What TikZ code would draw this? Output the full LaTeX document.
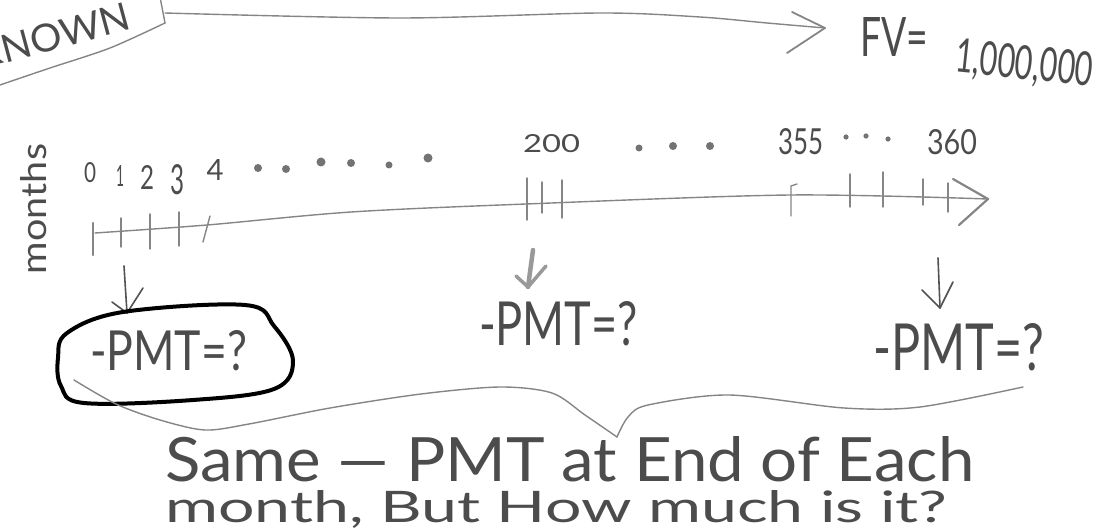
\documentclass[tikz,border=0pt]{standalone}
\usepackage{fontspec}
\setmainfont{Lato}
\usepackage{graphicx}
\newcommand{\hwtext}[3]{\resizebox{#1pt}{#2pt}{#3}}
\begin{document}
\begin{tikzpicture}[x=1pt,y=-1pt,
  pencil/.style={draw=black!48, line width=1.4pt, line cap=round, line join=round},
  darkpen/.style={draw=black!68, line width=1.6pt, line cap=round, line join=round},
  ink/.style={inner sep=0pt, outer sep=0pt, text=black!70},
  dotmark/.style={fill=black!55, draw=none}]
\useasboundingbox (0,0) rectangle (1099,529);

% ---------- KNOWN box and top arrow ----------
\node[ink, anchor=base west, rotate=15] (known) at (-20,70) {\hwtext{158}{28}{KNOWN}};
\coordinate (boxTop) at (160,-3);
\coordinate (boxCorner) at (165,23);
\coordinate (boxR) at (165,13);
\coordinate (boxEnd) at (-3,86);
\draw[pencil] (boxTop) -- (boxCorner);
\draw[pencil] plot[smooth, tension=0.5] coordinates {(boxCorner) (110,48) (50,68) (boxEnd)};
\coordinate (fvTip) at (825,28);
\draw[pencil] plot[smooth, tension=0.5] coordinates {(boxR) (400,18) (600,13) (700,17) (767,23) (fvTip)};
\draw[pencil, line width=1.8pt] (792,12) -- (fvTip) -- (787,53);

\node[ink, anchor=base west] (fv) at (860,57) {\hwtext{68}{39}{FV=}};
\node[ink, anchor=base west, rotate=-6] (million) at (954,72) {\hwtext{138}{34}{1,000,000}};

% ---------- months label ----------
\node[ink, anchor=base west, rotate=90] (months) at (46,274) {\hwtext{130}{26}{months}};

% ---------- month numbers ----------
\node[ink, anchor=base] (n0) at (90,183) {\hwtext{12}{20}{0}};
\node[ink, anchor=base] (n1) at (120,186) {\hwtext{8}{21}{1}};
\node[ink, anchor=base] (n2) at (147,190) {\hwtext{14}{24}{2}};
\node[ink, anchor=base] (n3) at (177,195) {\hwtext{14}{30}{3}};
\node[ink, anchor=base] (n4) at (215,181) {\hwtext{17}{21}{4}};
\foreach \x/\y/\r in {258/168/4, 286/169/4, 321/162/4.5, 351/163/4, 389/165/3.5, 428/158/4.5}
  \fill[dotmark] (\x,\y) circle[radius=\r];
\node[ink, anchor=base west] (n200) at (523,153) {\hwtext{57}{18}{200}};
\foreach \x/\y/\r in {639/148/3.5, 673/146/4, 710/146/4}
  \fill[dotmark] (\x,\y) circle[radius=\r];
\node[ink, anchor=base west] (n355) at (778,155) {\hwtext{45}{26}{355}};
\foreach \x/\y in {846/137, 866/136, 888/139}
  \fill[dotmark] (\x,\y) circle[radius=2.6];
\node[ink, anchor=base west] (n360) at (927,155) {\hwtext{50}{25}{360}};

% ---------- timeline ----------
\coordinate (t0) at (95,233);
\coordinate (tEnd) at (988,199);
\draw[pencil] plot[smooth, tension=0.5] coordinates {(t0) (207,225) (351,212) (526,204) (790,195) (tEnd)};
\draw[pencil, line width=2.2pt] (953,179) -- (tEnd) -- (959,225);
% ticks
\draw[pencil, line width=2.4pt] (93,223) -- (93,255);
\draw[pencil] (121,218) -- (121,247);
\draw[pencil] (150,214) -- (150,249);
\draw[pencil] (179,212) -- (179,246);
\draw[pencil] (210,216) -- (203,242);
\draw[pencil] (527,178) -- (527,220);
\draw[pencil] (542,182) -- (542,213);
\draw[pencil] (562,180) -- (562,218);
\draw[pencil] (797,184) -- (791,186) -- (791,216);
\draw[pencil] (850,174) -- (850,207);
\draw[pencil] (883,172) -- (883,207);
\draw[pencil] (923,179) -- (923,205);
\draw[pencil] (948,183) -- (948,212);

% ---------- down arrows ----------
\coordinate (la1) at (124,266);
\coordinate (la2) at (127,313);
\draw[darkpen] (la1) -- (la2);
\draw[darkpen] (112,302) -- (la2) -- (143,288);
\coordinate (ma1) at (533,250);
\coordinate (ma2) at (528,287);
\draw[pencil, line width=4.5pt, draw=black!40] (ma1) -- (ma2);
\draw[pencil, line width=3.5pt, draw=black!40] (516,276) -- (ma2) -- (546,266);
\coordinate (ra1) at (938,258);
\coordinate (ra2) at (940,308);
\draw[darkpen] (ra1) -- (ra2);
\draw[darkpen] (922,290) -- (ra2) -- (953,282);

% ---------- PMT labels ----------
\draw[black, line width=4pt, line join=round] plot[smooth cycle, tension=0.6] coordinates
  {(58,358) (67,333) (123,312) (245,305) (274,326) (293,361) (274,389) (193,400) (84,403) (61,386)};
\node[ink, anchor=base west] (pmtL) at (90,370) {\hwtext{157}{40}{-PMT=?}};
\node[ink, anchor=base west] (pmtM) at (479,345) {\hwtext{159}{44}{-PMT=?}};
\node[ink, anchor=base west] (pmtR) at (873,370) {\hwtext{171}{47}{-PMT=?}};

% ---------- brace ----------
\coordinate (bL) at (74,380);
\coordinate (bMid) at (617,437);
\coordinate (bR) at (1023,387);
\draw[pencil] plot[smooth, tension=0.5] coordinates
  {(bL) (116,404) (160,420) (205,430) (249,424) (330,408) (421,394) (500,387) (552,393) (585,415) (bMid)};
\draw[pencil] plot[smooth, tension=0.5] coordinates
  {(bMid) (628,417) (648,405) (729,395) (844,408) (920,407) (bR)};

% ---------- bottom text ----------
\node[ink, anchor=base west] (line1) at (165,481) {\hwtext{809}{45}{Same — PMT at End of Each}};
\node[ink, anchor=base west] (line2) at (165,522) {\hwtext{782}{32}{month, But How much is it?}};
\end{tikzpicture}
\end{document}
